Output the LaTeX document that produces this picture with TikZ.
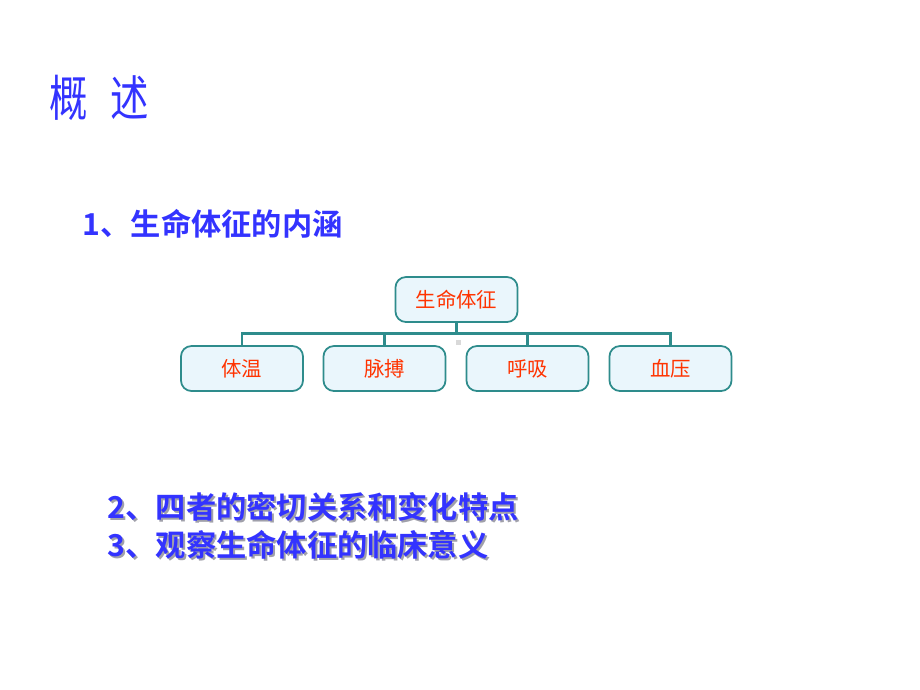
\documentclass[tikz,border=0pt]{standalone}
\usepackage{fontspec}
\newfontfamily\cjk{Noto Sans CJK SC}
\newfontfamily\cjkbold{Noto Sans CJK SC Bold}
\definecolor{titleblue}{RGB}{51,51,255}
\definecolor{labelred}{RGB}{255,51,0}
\definecolor{boxline}{RGB}{46,140,140}
\definecolor{boxfill}{RGB}{234,246,252}
\definecolor{shadowgrey}{RGB}{160,160,170}
\tikzset{
	vsbox/.style={draw=boxline, fill=boxfill, rounded corners=3pt, line width=0.5pt,
		minimum width=1.22cm, minimum height=0.45cm, inner sep=0pt,
		text=labelred, font=\cjk\fontsize{5.8pt}{6pt}\selectfont},
	link/.style={draw=boxline, line width=0.85pt},
	item/.style={anchor=west, inner sep=0pt, text=titleblue, font=\cjkbold\fontsize{8.6pt}{9pt}\selectfont},
	itemshadow/.style={item, text=shadowgrey}
}
\begin{document}
\begin{tikzpicture}[x=0.01cm, y=-0.01cm]
	\useasboundingbox (0,0) rectangle (920,690);
	% title
	\node (title) [anchor=west, inner sep=0pt, text=titleblue] at (49,98)
		{\scalebox{0.78}[1]{\cjk\fontsize{14pt}{15pt}\selectfont 概\hspace{2.9mm}述}};
	\node (item1) [item] at (82,224) {1、生命体征的内涵};
	% tree
	\node (vs) [vsbox] at (456.5,299.5) {生命体征};
	\node (t1) [vsbox] at (242,368.5) {体温};
	\node (t2) [vsbox] at (384.5,368.5) {脉搏};
	\node (t3) [vsbox] at (527.5,368.5) {呼吸};
	\node (t4) [vsbox] at (670.5,368.5) {血压};
	\coordinate (bus) at (456.5,333);
	\draw [link] (vs.south) -- (bus);
	\draw [link] (bus) -| (t1.north);
	\draw [link] (bus) -| (t2.north);
	\draw [link] (bus) -| (t3.north);
	\draw [link] (bus) -| (t4.north);
	\fill [black!15] (456.5,339.5) rectangle ++(5,5);
	% items 2 and 3
	\node (item2s) [itemshadow] at (109,509) {2、四者的密切关系和变化特点};
	\node (item3s) [itemshadow] at (109,547) {3、观察生命体征的临床意义};
	\node (item2) [item] at (107,507) {2、四者的密切关系和变化特点};
	\node (item3) [item] at (107,545) {3、观察生命体征的临床意义};
\end{tikzpicture}
\end{document}
